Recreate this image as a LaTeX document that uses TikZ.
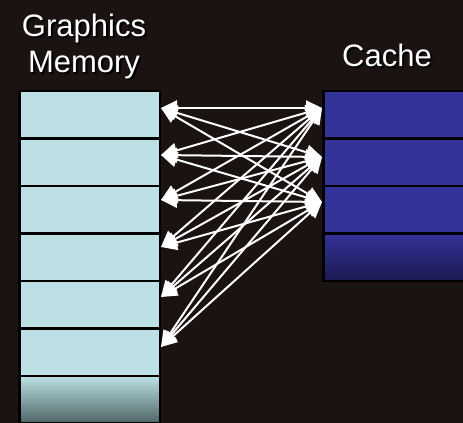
\documentclass[tikz,border=0pt]{standalone}
\usepackage{fontspec}
\setmainfont{Liberation Sans}
\usetikzlibrary{arrows.meta}

\definecolor{bgcol}{RGB}{27,18,18}
\definecolor{memfill}{RGB}{188,224,228}
\definecolor{memdark}{RGB}{78,100,102}
\definecolor{cachefill}{RGB}{51,51,153}
\definecolor{cachedark}{RGB}{26,26,80}

\begin{document}
\begin{tikzpicture}[>={Triangle[length=16bp,width=15bp]},line join=bevel,
  memcell/.style={draw=black,fill=memfill,line width=2.5bp,minimum width=140.5bp,minimum height=47.5bp,inner sep=0pt},
  cachecell/.style={draw=black,fill=cachefill,line width=2.5bp,minimum width=152bp,minimum height=47.5bp,inner sep=0pt},
  headtext/.style={text=white,align=center,inner sep=0pt,font=\fontsize{31bp}{36bp}\selectfont},
  headshadow/.style={headtext,text=black},
  link/.style={<->,draw=white,line width=2bp}]
\clip (0bp,0bp) rectangle (463bp,423bp);
\fill[bgcol] (0bp,0bp) rectangle (463bp,423bp);

% Node: m1 .. m7 (graphics memory)
\node[memcell] (m1) at (89.5bp,308.25bp) {};
\node[memcell] (m2) at (89.5bp,260.75bp) {};
\node[memcell] (m3) at (89.5bp,213.25bp) {};
\node[memcell] (m4) at (89.5bp,165.75bp) {};
\node[memcell] (m5) at (89.5bp,118.25bp) {};
\node[memcell] (m6) at (89.5bp,70.75bp) {};
\node[memcell,top color=memfill,middle color=memfill,bottom color=memdark] (m7) at (89.5bp,23.25bp) {};

% Node: c1 .. c4 (cache)
\node[cachecell] (c1) at (399.25bp,308.25bp) {};
\node[cachecell] (c2) at (399.25bp,260.75bp) {};
\node[cachecell] (c3) at (399.25bp,213.25bp) {};
\node[cachecell,top color=cachefill,middle color=cachefill,bottom color=cachedark] (c4) at (399.25bp,165.75bp) {};

% arrow ends
\coordinate (l1) at ([yshift=6.75bp]m1.east);
\coordinate (l2) at ([yshift=7.25bp]m2.east);
\coordinate (l3) at ([yshift=9.75bp]m3.east);
\coordinate (l4) at ([yshift=10.25bp]m4.east);
\coordinate (l5) at ([yshift=7.75bp]m5.east);
\coordinate (l6) at ([yshift=5.25bp]m6.east);
\coordinate (r1) at ([yshift=6.75bp]c1.west);
\coordinate (r2) at ([yshift=5.25bp]c2.west);
\coordinate (r3) at ([yshift=7.75bp]c3.west);

% Edge: m1 <-> c1, c2, c3
\draw[link] (l1) -- (r1);
\draw[link] (l1) -- (r2);
\draw[link] (l1) -- (r3);

% Edge: m2 <-> c1, c2, c3
\draw[link] (l2) -- (r1);
\draw[link] (l2) -- (r2);
\draw[link] (l2) -- (r3);

% Edge: m3 <-> c1, c2, c3
\draw[link] (l3) -- (r1);
\draw[link] (l3) -- (r2);
\draw[link] (l3) -- (r3);

% Edge: m4 <-> c1, c2, c3
\draw[link] (l4) -- (r1);
\draw[link] (l4) -- (r2);
\draw[link] (l4) -- (r3);

% Edge: m5 <-> c1, c2, c3
\draw[link] (l5) -- (r1);
\draw[link] (l5) -- (r2);
\draw[link] (l5) -- (r3);

% Edge: m6 <-> c1, c2, c3
\draw[link] (l6) -- (r1);
\draw[link] (l6) -- (r2);
\draw[link] (l6) -- (r3);

% Labels
\node[headshadow] (memshadow) at (86bp,375bp) {Graphics\\Memory};
\node[headtext] (memlabel) at (84bp,377bp) {Graphics\\Memory};
\node[headshadow,anchor=base] (cacheshadow) at (389bp,354bp) {Cache};
\node[headtext,anchor=base] (cachelabel) at (387bp,356bp) {Cache};
%
\end{tikzpicture}
\end{document}
